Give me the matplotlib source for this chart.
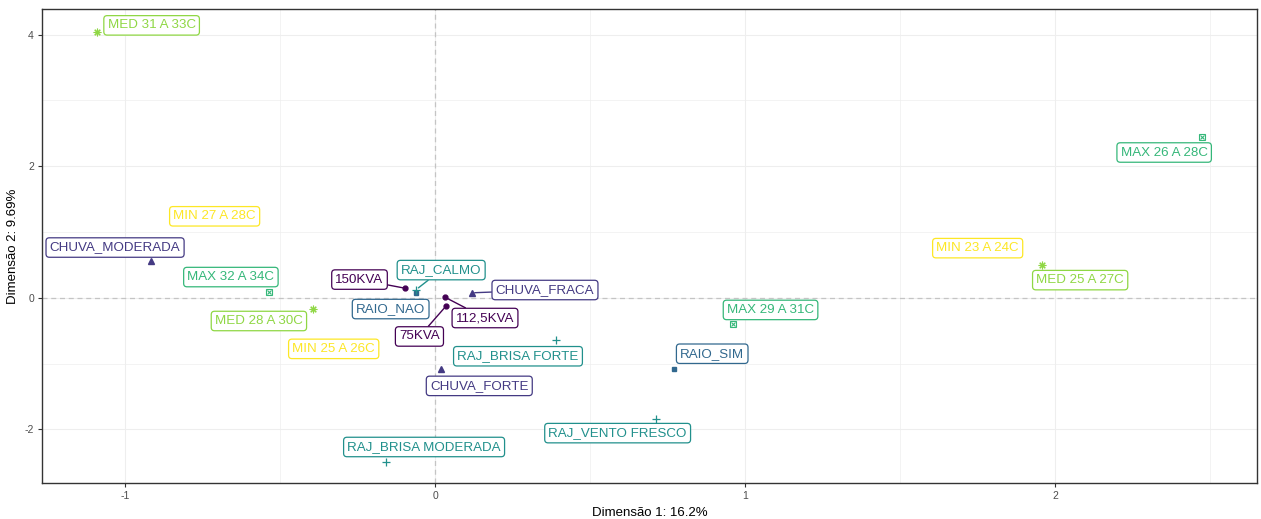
import matplotlib
matplotlib.use("Agg")
import matplotlib.pyplot as plt

plt.rcParams['font.family'] = ['Liberation Sans', 'DejaVu Sans']

# ---- data ----
labels = ["MED 31 A 33C", "MIN 27 A 28C", "CHUVA_MODERADA", "MAX 32 A 34C", "MED 28 A 30C",
          "MIN 25 A 26C", "150KVA", "RAIO_NAO", "RAJ_CALMO", "112,5KVA", "75KVA",
          "CHUVA_FRACA", "CHUVA_FORTE", "RAJ_BRISA FORTE", "RAJ_VENTO FRESCO",
          "RAJ_BRISA MODERADA", "RAIO_SIM", "MAX 29 A 31C", "MIN 23 A 24C",
          "MED 25 A 27C", "MAX 26 A 28C"]
dim1 = [-1.090, -0.711, -0.917, -0.536, -0.395, -0.327, -0.096, -0.061, -0.061, 0.032, 0.035,
        0.119, 0.020, 0.389, 0.713, -0.158, 0.769, 0.962, 1.750, 1.958, 2.475]
dim2 = [4.035, 1.239, 0.556, 0.095, -0.167, -0.776, 0.145, 0.080, 0.125, 0.009, -0.127,
        0.076, -1.085, -0.645, -1.844, -2.491, -1.075, -0.394, 0.755, 0.500, 2.449]
groups = ["MED", "MIN", "CHUVA", "MAX", "MED", "MIN", "KVA", "RAIO", "RAJ", "KVA", "KVA",
          "CHUVA", "CHUVA", "RAJ", "RAJ", "RAJ", "RAIO", "MAX", "MIN", "MED", "MAX"]
x_ticks = [-1, 0, 1, 2]
y_ticks = [-2, 0, 2, 4]
x_title = "Dimensão 1: 16.2%"
y_title = "Dimensão 2: 9.69%"

# ---- styles ----
colors = {"KVA": "#440154", "CHUVA": "#443A83", "RAIO": "#31688E", "RAJ": "#21908C",
          "MAX": "#35B779", "MED": "#8FD744", "MIN": "#FDE725"}
# label offsets (pixels) relative to the point, and whether a segment is drawn
offsets = {
    "MED 31 A 33C": (54.5, 7, False), "MIN 27 A 28C": (0, 0, False),
    "CHUVA_MODERADA": (-35.7, 13.7, False), "MAX 32 A 34C": (-38, 14.5, False),
    "MED 28 A 30C": (-53.7, -12.2, False), "MIN 25 A 26C": (0, 0, False),
    "150KVA": (-45.8, 8.7, True), "RAIO_NAO": (-25.5, -16.5, False),
    "RAJ_CALMO": (25, 19.5, True), "112,5KVA": (40, -20.8, True),
    "75KVA": (-26.5, -30.3, True), "CHUVA_FRACA": (73, 2.8, True),
    "CHUVA_FORTE": (38, -16.7, False), "RAJ_BRISA FORTE": (-37.7, -16, False),
    "RAJ_VENTO FRESCO": (-38.5, -14, False), "RAJ_BRISA MODERADA": (38, 14.7, False),
    "RAIO_SIM": (38.7, 14.8, False), "MAX 29 A 31C": (37.2, 13.8, False),
    "MIN 23 A 24C": (0, 0, False), "MED 25 A 27C": (38, -15.2, False),
    "MAX 26 A 28C": (-38.3, -15.8, False),
}

fig = plt.figure(figsize=(12.61, 5.19), dpi=100)
ax = fig.add_axes([0.0335, 0.070, 0.9631, 0.912])
ax.set_xlim(-1.267, 2.650)
ax.set_ylim(-2.81, 4.385)

# grid
for v in [-1, -0.5, 0, 0.5, 1, 1.5, 2, 2.5]:
    ax.axvline(v, color="#EEEEEE", lw=0.5 if v % 1 else 0.8, zorder=0)
for v in [-2, -1, 0, 1, 2, 3, 4]:
    ax.axhline(v, color="#EEEEEE", lw=0.5 if v % 2 else 0.8, zorder=0)
ax.axhline(0, color="#C4C4C4", lw=0.9, ls=(0, (4, 3)), zorder=1)
ax.axvline(0, color="#C4C4C4", lw=0.9, ls=(0, (4, 3)), zorder=1)

# points
for lab, x, y, g in zip(labels, dim1, dim2, groups):
    c = colors[g]
    if g == "KVA":
        ax.plot(x, y, 'o', ms=3.5, color=c, zorder=3)
    elif g == "CHUVA":
        ax.plot(x, y, '^', ms=4, color=c, mec=c, zorder=3)
    elif g == "RAIO":
        ax.plot(x, y, 's', ms=3.5, color=c, zorder=3)
    elif g == "RAJ":
        ax.plot(x, y, '+', ms=6, mew=0.9, color=c, zorder=3)
    elif g == "MAX":
        ax.plot(x, y, 's', ms=4.5, mfc='none', mec=c, mew=0.8, zorder=3)
        ax.plot(x, y, 'x', ms=3, mec=c, mew=0.8, zorder=3)
    elif g == "MED":
        ax.plot(x, y, marker=(8, 2, 0), ms=5.5, color=c, mew=0.8, zorder=3)

# labels
for lab, x, y, g in zip(labels, dim1, dim2, groups):
    c = colors[g]
    dx, dy, seg = offsets[lab]
    ap = dict(arrowstyle='-', color=c, lw=1.0, shrinkA=0, shrinkB=2) if seg else None
    ax.annotate(lab, xy=(x, y), xytext=(dx, dy), textcoords='offset pixels',
                ha='center', va='center', fontsize=9.6, color=c,
                bbox=dict(boxstyle='round,pad=0.28,rounding_size=0.25', fc='white', ec=c, lw=0.9),
                arrowprops=ap, zorder=4)

ax.set_xticks(x_ticks)
ax.set_yticks(y_ticks)
ax.set_xticklabels([str(t) for t in x_ticks])
ax.set_yticklabels([str(t) for t in y_ticks])
ax.tick_params(axis='both', length=3, width=0.8, color="#333333", labelsize=7.5,
               labelcolor="#4D4D4D", pad=3)
for s in ax.spines.values():
    s.set_color("#333333")
    s.set_linewidth(1.0)
ax.set_xlabel(x_title, fontsize=9.5, labelpad=4)
ax.set_ylabel(y_title, fontsize=9.5, labelpad=4)

fig.savefig("out.png", dpi=100)
